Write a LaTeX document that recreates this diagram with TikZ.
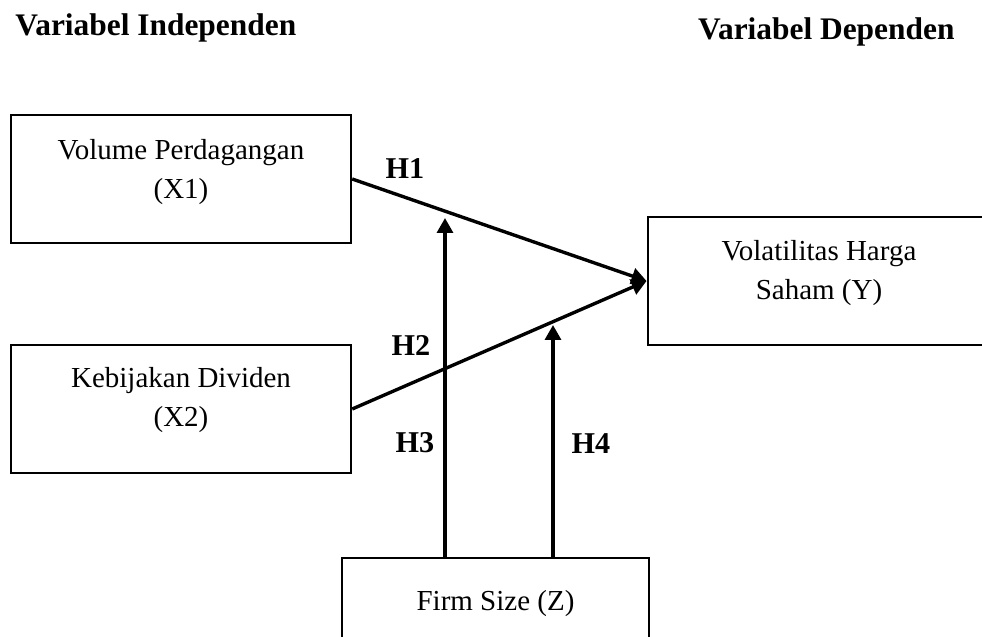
\documentclass[tikz,border=0pt]{standalone}
\usepackage{fontspec}
\setmainfont{Liberation Serif}
\usetikzlibrary{arrows.meta}

\begin{document}
\begin{tikzpicture}[x=0.4138pt, y=-0.4138pt,
	every node/.style={font=\fontsize{12}{15.8}\selectfont},
	box/.style={draw, line width=1pt, minimum width=140.7pt, minimum height=53pt, inner sep=0pt},
	head/.style={font=\fontsize{13}{15}\selectfont\bfseries, inner sep=0pt},
	hyp/.style={font=\fontsize{12.5}{15}\selectfont\bfseries, anchor=base, inner sep=0pt},
	link/.style={line width=1.4pt, -{Triangle[length=6.2pt, width=6.6pt]}}]
	\clip (0,0) rectangle (982,637);
	% headings
	\node[head, anchor=base west] (hind) at (15,35) {Variabel Independen};
	\node[head, anchor=base east] (hdep) at (955,39) {Variabel Dependen};
	% variables
	\node[box] (x1) at (181,179) {};
	\node[align=center] (x1txt) at (181,172) {Volume Perdagangan\\(X1)};
	\node[box] (x2) at (181,409) {};
	\node[align=center] (x2txt) at (181,400) {Kebijakan Dividen\\(X2)};
	\node[box, minimum width=145pt] (y) at (823,281) {};
	\node[align=center] (ytxt) at (819,273) {Volatilitas Harga\\Saham (Y)};
	\node[box, minimum width=127pt] (z) at (495.5,622) {};
	\node (ztxt) at (495.5,604) {Firm Size (Z)};
	% moderation ends
	\coordinate (m1) at (445,218);
	\coordinate (m2) at (553,325);
	\draw[link] (x1.east) -- (y.west);
	\draw[link] (x2.east) -- (y.west);
	\draw[link] (z.north -| m1) -- (m1);
	\draw[link] (z.north -| m2) -- (m2);
	% hypotheses
	\node[hyp] (h1) at (405,178) {H1};
	\node[hyp] (h2) at (411,355) {H2};
	\node[hyp] (h3) at (415,452) {H3};
	\node[hyp] (h4) at (591,453) {H4};
\end{tikzpicture}
\end{document}
